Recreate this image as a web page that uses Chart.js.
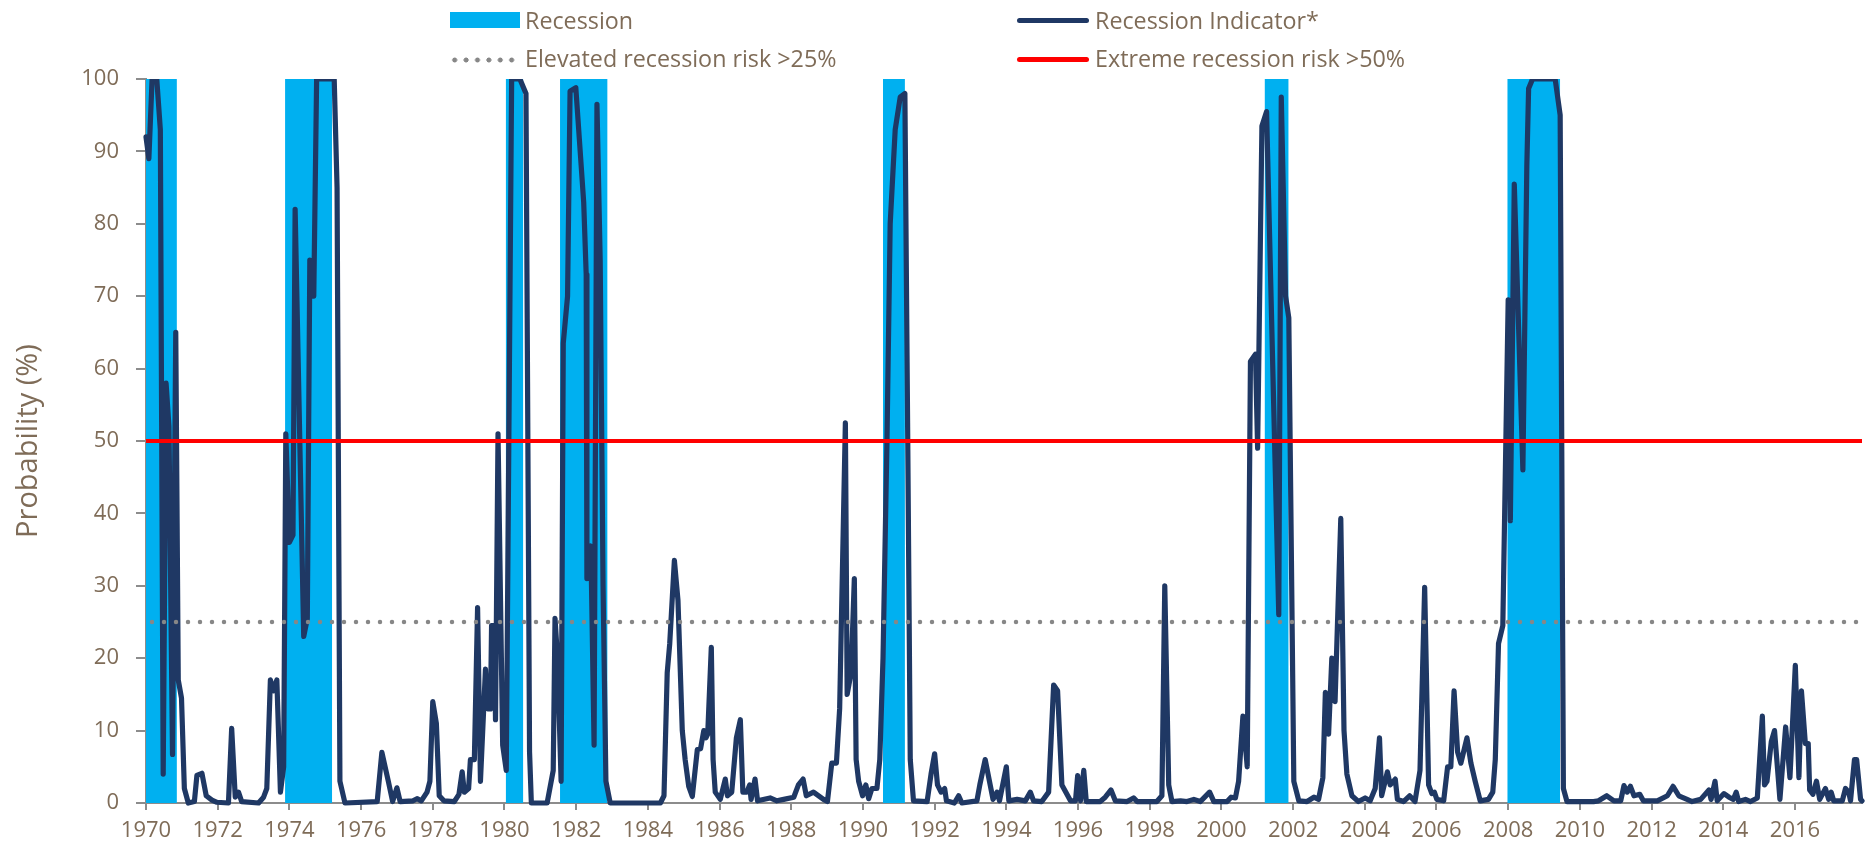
<!DOCTYPE html>
<html>
<head>
<meta charset="utf-8">
<script src="https://cdn.jsdelivr.net/npm/chart.js@4.4.1/dist/chart.umd.min.js"></script>
<style>
  html, body { margin: 0; padding: 0; background: #fff; }
  #wrap { position: relative; width: 1872px; height: 849px; font-family: "Open Sans", sans-serif; color: #7f6c58; }
  #chart { position: absolute; left: 0; top: 0; }
  .lg-text { position: absolute; font-size: 23.3px; line-height: 28px; white-space: nowrap; }
  .lg-mark { position: absolute; }
</style>
</head>
<body>
<div id="wrap">
  <canvas id="chart" width="1872" height="849"></canvas>
  <div id="legend"></div>
</div>
<script>
// x axis range and ticks (decimal years)
const X_MIN = 1970
const X_MAX = 2017.87
const X_TICKS = [1970, 1972, 1974, 1976, 1978, 1980, 1982, 1984, 1986, 1988, 1990, 1992,
  1994, 1996, 1998, 2000, 2002, 2004, 2006, 2008, 2010, 2012, 2014, 2016]

// NBER recessions, start / end as decimal years
const RECESSION_STARTS = [1970.0, 1973.88, 1980.04, 1981.55, 1990.56, 2001.21, 2007.98]
const RECESSION_ENDS   = [1970.86, 1975.19, 1980.52, 1982.87, 1991.17, 2001.87, 2009.45]

// thresholds
const ELEVATED_RISK = 25
const EXTREME_RISK = 50

// recession indicator (decimal year -> probability %)
const INDICATOR_DATES = [
  1970.00, 1970.08, 1970.17, 1970.30, 1970.40, 1970.48, 1970.56, 1970.64, 1970.74, 1970.83,
  1970.90, 1970.99, 1971.07, 1971.18, 1971.35, 1971.42, 1971.56, 1971.68, 1971.84, 1971.98,
  1972.30, 1972.39, 1972.49, 1972.58, 1972.67, 1973.14, 1973.28, 1973.37, 1973.47, 1973.56,
  1973.65, 1973.75, 1973.84, 1973.90, 1974.00, 1974.10, 1974.16, 1974.40, 1974.50, 1974.57,
  1974.68, 1974.76,
  1975.25, 1975.33, 1975.41, 1975.55, 1976.45, 1976.58, 1976.76, 1976.88, 1977.00, 1977.09,
  1977.45, 1977.56, 1977.68, 1977.84, 1977.92,
  1978.00, 1978.10, 1978.18, 1978.31, 1978.60, 1978.73, 1978.82, 1978.88, 1979.00, 1979.05,
  1979.16, 1979.25, 1979.33, 1979.47, 1979.53, 1979.61, 1979.64, 1979.72, 1979.75, 1979.82,
  1979.95, 1980.05, 1980.20, 1980.43, 1980.60, 1980.70, 1980.75,
  1981.19, 1981.36, 1981.41, 1981.48, 1981.58, 1981.64, 1981.76, 1981.83, 1981.99, 1982.21,
  1982.28, 1982.30, 1982.41, 1982.50, 1982.58, 1982.67, 1982.75, 1982.83, 1982.95,
  1984.35, 1984.45, 1984.54, 1984.61, 1984.74, 1984.84, 1984.96, 1985.04, 1985.14, 1985.24,
  1985.38, 1985.47, 1985.56, 1985.62, 1985.67, 1985.77, 1985.82, 1985.88, 1986.02, 1986.16,
  1986.22, 1986.34, 1986.47, 1986.58, 1986.65, 1986.76, 1986.84, 1986.88, 1986.99, 1987.06,
  1987.41, 1987.60, 1987.79, 1988.07, 1988.20, 1988.33, 1988.42, 1988.62, 1988.90, 1989.01,
  1989.13, 1989.26, 1989.35, 1989.51, 1989.56, 1989.67, 1989.76, 1989.81, 1989.88, 1989.99,
  1990.08, 1990.16, 1990.25, 1990.39, 1990.47, 1990.56, 1990.67, 1990.76, 1990.90, 1991.04,
  1991.17, 1991.25, 1991.32, 1991.41,
  1991.79, 1991.90, 1992.00, 1992.08, 1992.18, 1992.28, 1992.33, 1992.55, 1992.67, 1992.76,
  1993.18, 1993.26, 1993.41, 1993.55, 1993.63, 1993.74, 1993.81, 1994.00, 1994.07, 1994.30,
  1994.53, 1994.67, 1994.76, 1994.99,
  1995.18, 1995.32, 1995.43, 1995.55, 1995.79, 1995.93, 1995.99, 1996.07, 1996.16, 1996.23,
  1996.62, 1996.76, 1996.92, 1997.04, 1997.37, 1997.55, 1997.65, 1998.20, 1998.34, 1998.42,
  1998.53, 1998.62, 1998.86, 1999.04, 1999.23, 1999.41, 1999.67, 1999.79,
  2000.16, 2000.27, 2000.39, 2000.48, 2000.60, 2000.72, 2000.81, 2000.95, 2001.01, 2001.13,
  2001.26, 2001.60, 2001.67, 2001.79, 2001.88, 2002.02, 2002.16, 2002.39, 2002.58, 2002.71,
  2002.83, 2002.90, 2002.99, 2003.08, 2003.17, 2003.33, 2003.42, 2003.50, 2003.64, 2003.82,
  2004.01, 2004.15, 2004.29, 2004.41, 2004.47, 2004.63, 2004.71, 2004.85, 2004.91, 2005.08,
  2005.25, 2005.40, 2005.54, 2005.67, 2005.78, 2005.87, 2005.94, 2006.01, 2006.20, 2006.31,
  2006.40, 2006.49, 2006.59, 2006.68, 2006.85, 2006.96, 2007.08, 2007.22, 2007.45, 2007.57,
  2007.64, 2007.73, 2007.85,
  2008.00, 2008.06, 2008.17, 2008.41, 2008.52, 2008.57, 2008.68, 2009.31, 2009.45, 2009.54,
  2009.64,
  2010.38, 2010.52, 2010.75, 2010.95, 2011.14, 2011.23, 2011.32, 2011.41, 2011.51, 2011.67,
  2011.77, 2012.16, 2012.44, 2012.60, 2012.76, 2012.99, 2013.13, 2013.37, 2013.51, 2013.60,
  2013.66, 2013.77, 2013.83, 2014.02, 2014.16, 2014.28, 2014.36, 2014.43, 2014.62, 2014.76,
  2014.95,
  2015.09, 2015.15, 2015.22, 2015.34, 2015.43, 2015.58, 2015.74, 2015.86, 2016.01, 2016.11,
  2016.18, 2016.29, 2016.37, 2016.41, 2016.50, 2016.60, 2016.69, 2016.85, 2016.94, 2017.01,
  2017.08, 2017.32, 2017.41, 2017.50, 2017.55, 2017.66, 2017.72, 2017.83, 2017.87
]
const INDICATOR_VALUES = [
  92, 89, 100, 100, 93, 4, 58, 52, 6.7, 65,
  17, 14.5, 2, 0, 0.2, 3.8, 4.1, 1, 0.4, 0.1,
  0, 10.3, 0.8, 1.5, 0.2, 0, 0.8, 2, 17, 15.5,
  17, 1.5, 5, 51, 36, 37, 82, 23, 25.5, 75,
  70, 100,
  100, 85, 3, 0, 0.2, 7, 3, 0.2, 2.1, 0.2,
  0.3, 0.6, 0.3, 1.5, 3,
  14, 11, 1, 0.3, 0.2, 1.2, 4.3, 1.5, 2, 6,
  6, 27, 3, 18.5, 13, 13, 24.5, 24.5, 11.5, 51,
  8, 4.5, 100, 100, 98, 7, 0,
  0, 4.5, 25.5, 20, 3, 63.5, 70, 98.3, 98.8, 83,
  73, 31, 35.5, 8, 96.5, 75, 30, 3, 0,
  0, 1, 18, 22, 33.5, 28, 10, 6, 2.3, 0.9,
  7.4, 7.5, 10, 9, 9.5, 21.5, 6, 1.5, 0.5, 3.3,
  1, 1.5, 9, 11.5, 1.5, 1.5, 2.5, 0.5, 3.3, 0.3,
  0.7, 0.3, 0.5, 0.8, 2.5, 3.3, 1, 1.5, 0.5, 0.2,
  5.5, 5.5, 13, 52.5, 15, 18, 31, 6, 3, 1,
  2.5, 0.6, 2, 2, 6, 20, 50, 80, 93, 97.5,
  98, 50, 6, 0.3,
  0.2, 4, 6.8, 2.5, 1.5, 2, 0.3, 0, 1, 0,
  0.3, 2.5, 6, 2.5, 0.5, 1.5, 0.3, 5, 0.3, 0.5,
  0.3, 1.5, 0.3, 0.2,
  1.5, 16.3, 15.5, 2.5, 0.3, 0.3, 3.8, 0.3, 4.5, 0.2,
  0.2, 0.8, 1.8, 0.3, 0.2, 0.7, 0.2, 0.2, 1, 30,
  2.5, 0.2, 0.3, 0.2, 0.5, 0.2, 1.5, 0.2,
  0.2, 0.8, 0.7, 3, 12, 5, 61, 62, 49, 93.5,
  95.5, 26, 97.5, 70, 67, 3, 0.3, 0.2, 0.8, 0.5,
  3.5, 15.3, 9.5, 20, 14, 39.3, 10, 4, 1, 0.2,
  0.7, 0.3, 2, 9, 1, 4.3, 2.5, 3.3, 0.5, 0.2,
  1, 0.2, 4.5, 29.8, 2.5, 1.3, 1.5, 0.5, 0.3, 5,
  5, 15.5, 7, 5.5, 9, 5.5, 3, 0.3, 0.5, 1.5,
  6, 22, 24.5,
  69.5, 39, 85.5, 46, 88, 98.7, 100, 100, 95, 2,
  0.2,
  0.2, 0.3, 1, 0.3, 0.3, 2.4, 1.5, 2.3, 1, 1.2,
  0.3, 0.3, 1, 2.3, 1, 0.5, 0.2, 0.5, 1.3, 1.8,
  0.5, 3, 0.3, 1.3, 0.8, 0.5, 1.5, 0.2, 0.5, 0.2,
  0.7,
  12, 2.5, 3, 8.5, 10, 0.5, 10.5, 3.5, 19, 3.5,
  15.5, 8.2, 8.2, 1.8, 1.2, 3, 0.5, 2, 0.5, 1.5,
  0.3, 0.3, 2, 1.5, 0.3, 6, 6, 0.5, 0.3
]

const TEXT_COLOR = "#7f6c58"
const AXIS_COLOR = "#8c8c8c"

// recession bands as a filled outline: 0 -> 100 at start, 100 -> 0 at end
const recessionPoints = []
RECESSION_STARTS.forEach((start, i) => {
    recessionPoints.push({x: start, y: 0}, {x: start, y: 100},
                         {x: RECESSION_ENDS[i], y: 100}, {x: RECESSION_ENDS[i], y: 0})
})

const indicatorPoints = INDICATOR_DATES.map((d, i) => ({x: d, y: INDICATOR_VALUES[i]}))

const datasets = [
    {
        label: "Recession",
        data: recessionPoints,
        borderWidth: 0,
        backgroundColor: "#00b0f0",
        fill: "origin",
        pointRadius: 0,
        order: 4
    },
    {
        label: "Recession Indicator*",
        data: indicatorPoints,
        borderColor: "#1f3864",
        borderWidth: 5.2,
        borderJoinStyle: "round",
        borderCapStyle: "round",
        pointRadius: 0,
        fill: false,
        clip: {left: 5, right: 5, top: 0, bottom: 5},
        order: 3
    },
    {
        label: "Elevated recession risk >25%",
        data: [{x: X_MIN, y: ELEVATED_RISK}, {x: X_MAX, y: ELEVATED_RISK}],
        borderColor: "#878787",
        borderWidth: 4.5,
        borderDash: [0, 12],
        borderDashOffset: -6,
        borderCapStyle: "round",
        pointRadius: 0,
        fill: false,
        order: 2
    },
    {
        label: "Extreme recession risk >50%",
        data: [{x: X_MIN, y: EXTREME_RISK}, {x: X_MAX, y: EXTREME_RISK}],
        borderColor: "#ff0000",
        borderWidth: 4,
        pointRadius: 0,
        fill: false,
        order: 1
    }
]

const ctx = document.getElementById("chart").getContext("2d")
const chart = new Chart(ctx, {
    type: "line",
    data: { datasets: datasets },
    options: {
        responsive: false,
        devicePixelRatio: 1,
        animation: false,
        events: [],
        layout: { padding: { top: 79, left: 0, right: 10, bottom: 0 } },
        plugins: {
            legend: { display: false },
            tooltip: { enabled: false }
        },
        scales: {
            x: {
                type: "linear",
                min: X_MIN,
                max: X_MAX,
                afterBuildTicks: (scale) => { scale.ticks = X_TICKS.map(v => ({value: v})) },
                afterFit: (scale) => { scale.height = 46 },
                ticks: {
                    autoSkip: false,
                    maxRotation: 0,
                    padding: 8,
                    color: TEXT_COLOR,
                    font: { family: "Open Sans", size: 22 },
                    callback: (v) => String(v)
                },
                grid: { drawOnChartArea: false, tickLength: 7, color: AXIS_COLOR, lineWidth: 2 },
                border: { color: AXIS_COLOR, width: 2 }
            },
            y: {
                min: 0,
                max: 100,
                afterFit: (scale) => { scale.width = 146 },
                ticks: {
                    stepSize: 10,
                    padding: 17,
                    color: TEXT_COLOR,
                    font: { family: "Open Sans", size: 22 }
                },
                title: {
                    display: true,
                    text: "Probability (%)",
                    color: TEXT_COLOR,
                    font: { family: "Open Sans", size: 29 },
                    padding: { top: 11, bottom: 0 }
                },
                grid: { drawOnChartArea: false, tickLength: 10, color: AXIS_COLOR, lineWidth: 2 },
                border: { color: AXIS_COLOR, width: 2 }
            }
        }
    }
})

// legend in two rows / two columns, like the original
const legend = document.getElementById("legend")
const slots = [
    {ds: 0, left: 450, top: 12, w: 70, h: 16, textLeft: 525, textTop: 6},
    {ds: 1, left: 1017, top: 18, w: 72, h: 5, textLeft: 1095, textTop: 6},
    {ds: 2, left: 449, top: 57, w: 68, h: 6, textLeft: 525, textTop: 44},
    {ds: 3, left: 1017, top: 57, w: 72, h: 5, textLeft: 1095, textTop: 44}
]
slots.forEach((s) => {
    const ds = chart.data.datasets[s.ds]
    const mark = document.createElement("div")
    mark.className = "lg-mark"
    mark.style.left = s.left + "px"
    mark.style.top = s.top + "px"
    mark.style.width = s.w + "px"
    mark.style.height = s.h + "px"
    if (s.ds === 0) {
        mark.style.background = ds.backgroundColor
    } else if (s.ds === 2) {
        mark.style.backgroundImage = "radial-gradient(circle, " + ds.borderColor + " 2.2px, transparent 2.8px)"
        mark.style.backgroundSize = "11.4px " + s.h + "px"
    } else {
        mark.style.background = ds.borderColor
        mark.style.borderRadius = "3px"
    }
    legend.appendChild(mark)

    const txt = document.createElement("div")
    txt.className = "lg-text"
    txt.style.left = s.textLeft + "px"
    txt.style.top = s.textTop + "px"
    txt.textContent = ds.label
    legend.appendChild(txt)
})
</script>
</body>
</html>
